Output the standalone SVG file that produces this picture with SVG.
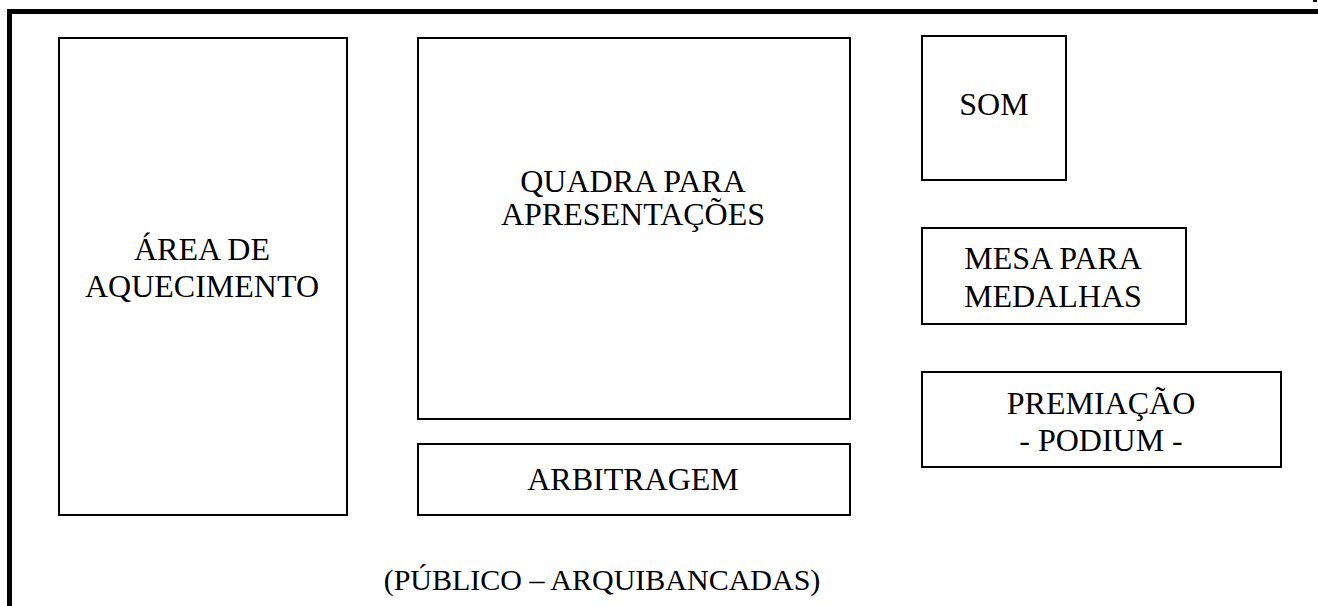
<svg xmlns="http://www.w3.org/2000/svg" width="1318" height="606" viewBox="0 0 1318 606">
<style>
.box{fill:#fff;stroke:#000;stroke-width:2}
.t{font-family:"Liberation Serif","Times New Roman",serif;font-size:32px;fill:#000;text-anchor:middle}
.s{font-size:30px}
</style>
<rect width="1318" height="606" fill="#fff"/>
<g id="frame">
<path d="M9.5 606 V11.5 H1318" fill="none" stroke="#000" stroke-width="5"/>
<rect x="1313" y="0" width="4" height="2" fill="#000"/>
</g>
<g id="aquecimento">
<rect class="box" x="59" y="38" width="288" height="477"/>
<text class="t" x="202" y="260">ÁREA DE</text>
<text class="t" x="202" y="297">AQUECIMENTO</text>
</g>
<g id="quadra">
<rect class="box" x="418" y="38" width="432" height="381"/>
<text class="t" x="633" y="192">QUADRA PARA</text>
<text class="t" x="633" y="225">APRESENTAÇÕES</text>
</g>
<g id="arbitragem">
<rect class="box" x="418" y="444" width="432" height="71"/>
<text class="t" x="633" y="490">ARBITRAGEM</text>
</g>
<g id="som">
<rect class="box" x="922" y="36" width="144" height="144"/>
<text class="t" x="994" y="115">SOM</text>
</g>
<g id="mesa">
<rect class="box" x="922" y="228" width="264" height="96"/>
<text class="t" x="1053" y="269">MESA PARA</text>
<text class="t" x="1053" y="307">MEDALHAS</text>
</g>
<g id="premiacao">
<rect class="box" x="922" y="372" width="359" height="95"/>
<text class="t" x="1101" y="414">PREMIAÇÃO</text>
<text class="t" x="1101" y="451">- PODIUM -</text>
</g>
<g id="publico">
<text class="t s" x="602" y="590">(PÚBLICO – ARQUIBANCADAS)</text>
</g>
<g id="connectors"></g>
</svg>
